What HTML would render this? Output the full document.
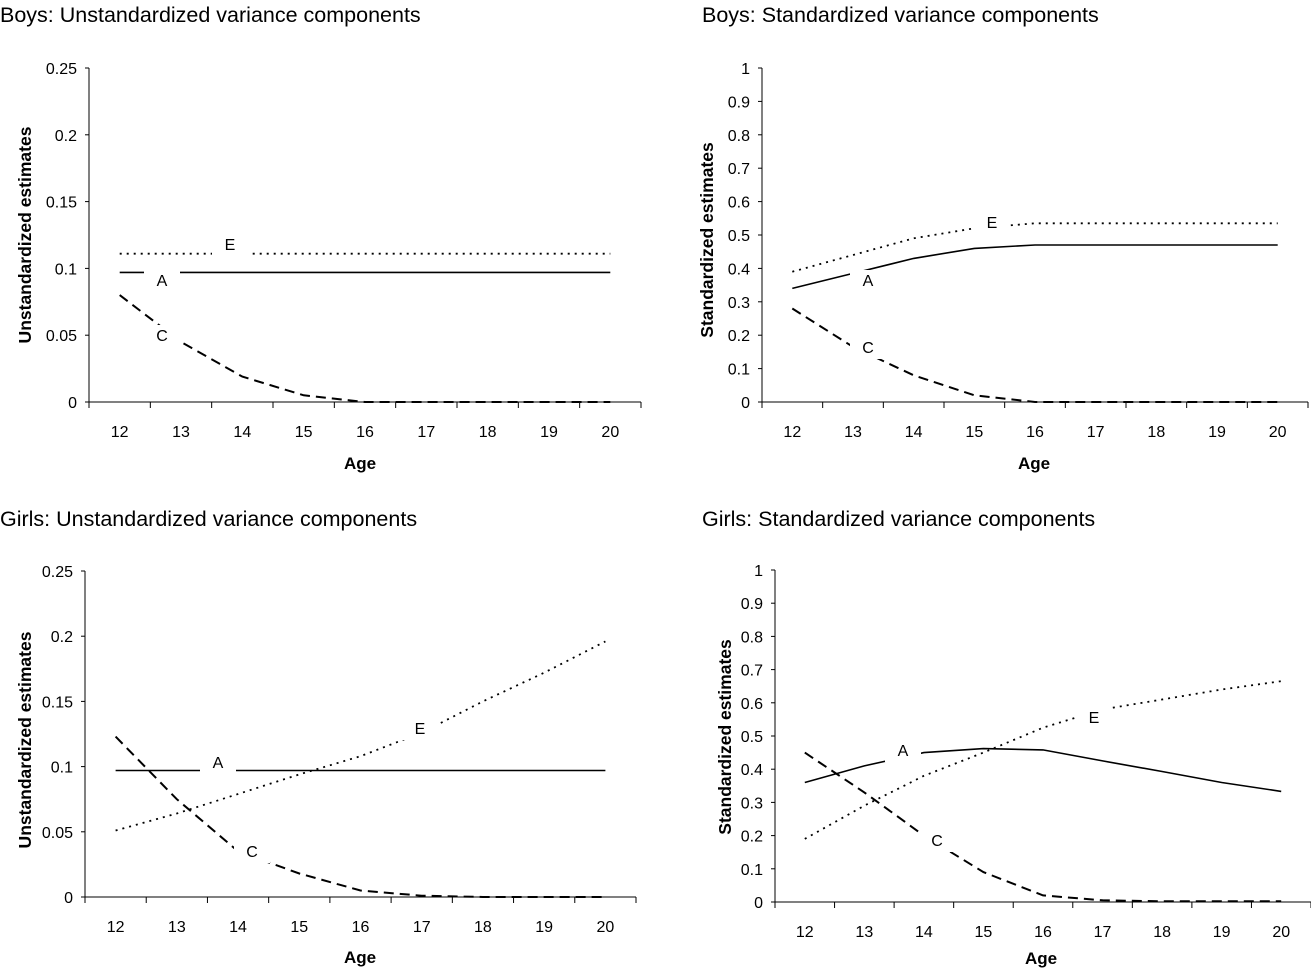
<!DOCTYPE html>
<html><head><meta charset="utf-8"><style>
html,body{margin:0;padding:0;background:#fff;}
svg{display:block;font-family:"Liberation Sans",Arial,sans-serif;}
</style></head><body>
<svg id="s" width="1311" height="969" xmlns="http://www.w3.org/2000/svg"></svg>
<script>
var P=[
 {t:"Boys: Unstandardized variance components",tx:0,ty:22,ax:89,right:641,y0:402,ytop:68,max:0.25,step:0.05,labs:["0","0.05","0.1","0.15","0.2","0.25"],
  yt:"Unstandardized estimates",ytx:32,yty:235,agex:360,agey:469,
  A:[.097,.097,.097,.097,.097,.097,.097,.097,.097],
  C:[.08,.045,.019,.005,0,0,0,0,0],
  E:[.111,.111,.111,.111,.111,.111,.111,.111,.111],
  la:[[162,286,"A"],[162,341,"C"],[230,250,"E"]]},
 {t:"Boys: Standardized variance components",tx:702,ty:22,ax:762,right:1308,y0:402,ytop:68,max:1,step:0.1,labs:["0","0.1","0.2","0.3","0.4","0.5","0.6","0.7","0.8","0.9","1"],
  yt:"Standardized estimates",ytx:714,yty:240,agex:1034,agey:469,
  A:[.34,.385,.43,.46,.47,.47,.47,.47,.47],
  C:[.28,.165,.08,.02,0,0,0,0,0],
  E:[.39,.44,.49,.52,.535,.535,.535,.535,.535],
  la:[[868,286,"A"],[868,353,"C"],[992,228,"E"]]},
 {t:"Girls: Unstandardized variance components",tx:0,ty:526,ax:85,right:636,y0:897,ytop:571,max:0.25,step:0.05,labs:["0","0.05","0.1","0.15","0.2","0.25"],
  yt:"Unstandardized estimates",ytx:32,yty:740,agex:360,agey:963,
  A:[.097,.097,.097,.097,.097,.097,.097,.097,.097],
  C:[.123,.075,.035,.018,.005,.001,0,0,0],
  E:[.051,.064,.079,.094,.108,.126,.15,.172,.196],
  la:[[218,768,"A"],[252,857,"C"],[420,734,"E"]]},
 {t:"Girls: Standardized variance components",tx:702,ty:526,ax:775,right:1311,y0:902,ytop:570,max:1,step:0.1,labs:["0","0.1","0.2","0.3","0.4","0.5","0.6","0.7","0.8","0.9","1"],
  yt:"Standardized estimates",ytx:732,yty:737,agex:1041,agey:964,
  A:[.36,.41,.45,.462,.458,.425,.393,.36,.333],
  C:[.45,.33,.2,.09,.02,.005,.002,.002,.002],
  E:[.19,.29,.38,.45,.525,.58,.61,.64,.665],
  la:[[903,756,"A"],[937,846,"C"],[1094,723,"E"]]}
];
var h="";
P.forEach(function(p){
 var w=(p.right-p.ax)/9;
 var X=function(i){return p.ax+w*(i+0.5)};
 var Y=function(v){return p.y0-(p.y0-p.ytop)*v/p.max};
 h+='<text x="'+p.tx+'" y="'+p.ty+'" font-size="21.5">'+p.t+'</text>';
 h+='<line x1="'+p.ax+'" y1="'+p.ytop+'" x2="'+p.ax+'" y2="'+p.y0+'" stroke="#000" stroke-width="1"/>';
 h+='<line x1="'+p.ax+'" y1="'+p.y0+'" x2="'+p.right+'" y2="'+p.y0+'" stroke="#000" stroke-width="1"/>';
 p.labs.forEach(function(l,k){var y=Y(k*p.step);
  h+='<line x1="'+(p.ax-4)+'" y1="'+y+'" x2="'+p.ax+'" y2="'+y+'" stroke="#000"/>';
  h+='<text x="'+(p.ax-12)+'" y="'+(y+6)+'" font-size="16" text-anchor="end">'+l+'</text>';});
 for(var i=0;i<=9;i++){var x=p.ax+w*i;h+='<line x1="'+x+'" y1="'+p.y0+'" x2="'+x+'" y2="'+(p.y0+6)+'" stroke="#000"/>';}
 for(var i=0;i<9;i++){h+='<text x="'+X(i)+'" y="'+(p.y0+35)+'" font-size="16" text-anchor="middle">'+(12+i)+'</text>';}
 h+='<text x="'+p.agex+'" y="'+p.agey+'" font-size="17" font-weight="bold" text-anchor="middle">Age</text>';
 h+='<text transform="translate('+(p.ytx-1)+','+p.yty+') rotate(-90)" font-size="17.5" font-weight="bold" text-anchor="middle">'+p.yt+'</text>';
 function line(arr,st){var d=arr.map(function(v,i){return (i?'L':'M')+X(i).toFixed(1)+' '+Y(v).toFixed(1)}).join(' ');h+='<path d="'+d+'" fill="none" stroke="#000" '+st+'/>';}
 line(p.E,'stroke-width="1.8" stroke-dasharray="2 5"');
 line(p.A,'stroke-width="1.6"');
 line(p.C,'stroke-width="2" stroke-dasharray="10 6"');
 p.la.forEach(function(l){h+='<rect x="'+(l[0]-18)+'" y="'+(l[1]-16)+'" width="36" height="22" fill="#fff"/>';
  h+='<text x="'+l[0]+'" y="'+l[1]+'" font-size="16" text-anchor="middle">'+l[2]+'</text>';});
});
document.getElementById("s").innerHTML=h;
</script>
</body></html>
